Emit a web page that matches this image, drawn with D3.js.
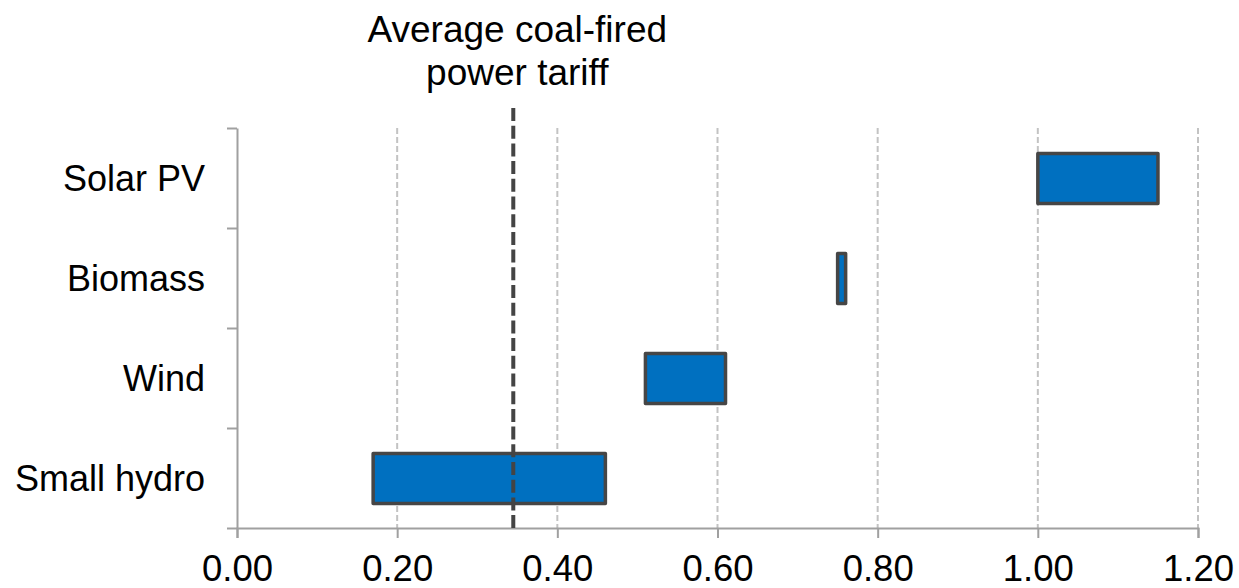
<!DOCTYPE html>
<html>
<head>
<meta charset="utf-8">
<script src="https://cdn.jsdelivr.net/npm/d3@7/dist/d3.min.js"></script>
<style>
  html, body { margin: 0; padding: 0; background: #fff; }
  svg { display: block; font-family: Arial, "Liberation Sans", sans-serif; }
</style>
</head>
<body>
<div id="chart"></div>
<script>
'use strict';

var categories = ['Solar PV', 'Biomass', 'Wind', 'Small hydro'],
    lowValues = [1.00, 0.75, 0.51, 0.17],
    highValues = [1.15, 0.76, 0.61, 0.46],
    coalTariff = 0.345,
    xTicks = [0, 0.2, 0.4, 0.6, 0.8, 1.0, 1.2],
    titleLines = ['Average coal-fired', 'power tariff'];

var W = 1239,
    H = 588,
    margin = { top: 128, right: 41, bottom: 60, left: 237 },
    width = W - margin.left - margin.right,
    height = H - margin.top - margin.bottom;

var svg = d3.select('#chart').append('svg').attr('width', W).attr('height', H),
    g = svg.append('g').attr('transform', 'translate(' + margin.left + ',' + margin.top + ')');

var x = d3.scaleLinear().domain([0, 1.2]).range([0, width]),
    y = d3.scaleBand().domain(categories).range([0, height]).padding(0),
    yEdge = d3.scaleLinear().domain([0, categories.length]).range([0, height]);

// gridlines
g.append('g').selectAll('line').data(xTicks.slice(1)).enter().append('line')
  .attr('x1', function (d) { return x(d); })
  .attr('x2', function (d) { return x(d); })
  .attr('y1', 0).attr('y2', height)
  .attr('stroke', '#c3c3c3').attr('stroke-width', 2).attr('stroke-dasharray', '6,3');

// x axis
var xAxis = g.append('g').attr('transform', 'translate(0,' + height + ')')
  .call(d3.axisBottom(x).tickValues(xTicks).tickFormat(d3.format('.2f')).tickSize(10).tickPadding(17));
xAxis.select('.domain').attr('stroke', '#a0a0a0').attr('stroke-width', 2);
xAxis.selectAll('.tick line').attr('stroke', '#a0a0a0').attr('stroke-width', 2);
xAxis.selectAll('.tick text').attr('fill', '#000').style('font-size', '36.5px').style('font-family', 'Arial, "Liberation Sans", sans-serif');

// y axis line and ticks at band edges
var yAxis = g.append('g')
  .call(d3.axisLeft(yEdge).tickValues(d3.range(categories.length + 1)).tickFormat('').tickSize(10).tickSizeOuter(0));
yAxis.select('.domain').attr('stroke', '#a0a0a0').attr('stroke-width', 2);
yAxis.selectAll('.tick line').attr('stroke', '#a0a0a0').attr('stroke-width', 2);

// category labels
var yLabels = g.append('g')
  .call(d3.axisLeft(y).tickSize(0).tickPadding(32));
yLabels.select('.domain').remove();
yLabels.selectAll('.tick text').attr('fill', '#000').attr('dy', '0.35em')
  .style('font-size', '36px').style('font-family', 'Arial, "Liberation Sans", sans-serif');

// range bars
g.append('g').selectAll('rect').data(categories).enter().append('rect')
  .attr('x', function (d, i) { return x(lowValues[i]); })
  .attr('width', function (d, i) { return x(highValues[i]) - x(lowValues[i]); })
  .attr('y', function (d) { return y(d) + y.bandwidth() * 0.255; })
  .attr('height', y.bandwidth() * 0.5)
  .attr('fill', '#0070c0')
  .attr('stroke', '#464646')
  .attr('stroke-width', 3.5)
  .attr('stroke-linejoin', 'round');

// average coal tariff line
g.append('line')
  .attr('x1', x(coalTariff)).attr('x2', x(coalTariff))
  .attr('y1', -20).attr('y2', height)
  .attr('stroke', '#444').attr('stroke-width', 4).attr('stroke-dasharray', '13,4.7');

// annotation
svg.append('text')
  .attr('x', margin.left + x(coalTariff) + 4)
  .attr('text-anchor', 'middle')
  .style('font-size', '37px')
  .attr('fill', '#000')
  .selectAll('tspan').data(titleLines).enter().append('tspan')
  .attr('x', margin.left + x(coalTariff) + 4)
  .attr('y', function (d, i) { return 42 + i * 43; })
  .text(function (d) { return d; });
</script>
</body>
</html>
